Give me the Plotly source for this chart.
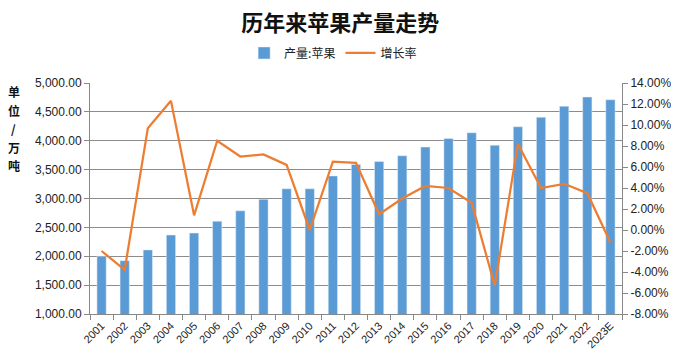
import plotly.graph_objects as go

years = ["2001", "2002", "2003", "2004", "2005", "2006", "2007", "2008", "2009", "2010",
         "2011", "2012", "2013", "2014", "2015", "2016", "2017", "2018", "2019", "2020",
         "2021", "2022", "2023E"]
production = [2002, 1924, 2110, 2367, 2401, 2606, 2786, 2985, 3168, 3168,
              3390, 3590, 3640, 3740, 3890, 4039, 4139, 3923, 4243, 4407,
              4597, 4757, 4710]
growth = [-2.0, -3.8, 9.7, 12.3, 1.4, 8.5, 7.0, 7.2, 6.2, 0.0,
          6.5, 6.4, 1.5, 3.0, 4.2, 4.0, 2.6, -5.3, 8.2, 4.0,
          4.4, 3.5, -1.2]

left_ticks = [1000, 1500, 2000, 2500, 3000, 3500, 4000, 4500, 5000]
right_ticks = [-8, -6, -4, -2, 0, 2, 4, 6, 8, 10, 12, 14]
right_labels = [f"{v:.2f}%" for v in right_ticks]
unit_chars = ["单", "位", "/", "万", "吨"]
unit_pos = [0.962, 0.882, 0.802, 0.722, 0.642]

font_family = "Liberation Sans, Arial, sans-serif"
cjk = "Noto Sans CJK SC, sans-serif"

fig = go.Figure()
fig.add_trace(go.Bar(x=years, y=production, name="产量:苹果", marker_color="#5B9BD5",
                     yaxis="y"))
fig.add_trace(go.Scatter(x=years, y=growth, name="增长率", mode="lines",
                         line=dict(color="#ED7D31", width=2.25), yaxis="y2"))

fig.update_layout(
    width=671, height=354,
    margin=dict(l=82, r=57, t=75, b=48, autoexpand=False),
    paper_bgcolor="white", plot_bgcolor="white",
    bargap=0.6,
    showlegend=True,
    title=dict(text="<b>历年来苹果产量走势</b>", x=0.495, xanchor="center", y=0.957, yanchor="middle",
               font=dict(family=cjk, size=22, color="#111111")),
    legend=dict(orientation="h", x=0.457, xanchor="center", y=1.13, yanchor="middle",
                font=dict(family=cjk, size=12, color="#222222"),
                tracegroupgap=0, traceorder="normal"),
    xaxis=dict(type="category", tickangle=-45, ticks="outside", tickson="boundaries",
               ticklen=5, tickcolor="#888888", showline=True, linecolor="#888888",
               showgrid=False, automargin=False,
               tickfont=dict(family=font_family, size=11, color="#222222")),
    yaxis=dict(range=[1000, 5000], tickvals=left_ticks, tickformat=",.2f",
               showgrid=True, gridcolor="#8C8C8C", gridwidth=1,
               showline=True, linecolor="#888888", ticks="outside", ticklen=5,
               tickcolor="#888888", zeroline=False, automargin=False,
               tickfont=dict(family=font_family, size=12, color="#222222")),
    yaxis2=dict(range=[-8, 14], tickvals=right_ticks, ticktext=right_labels,
                overlaying="y", side="right", showgrid=False,
                showline=True, linecolor="#888888", ticks="outside", ticklen=5,
                tickcolor="#888888", zeroline=False, automargin=False,
                tickfont=dict(family=font_family, size=12, color="#222222")),
)

for ch, yp in zip(unit_chars, unit_pos):
    fig.add_annotation(text=f"<b>{ch}</b>", xref="paper", yref="paper",
                       x=-0.143, y=yp, xanchor="center", yanchor="middle",
                       showarrow=False,
                       font=dict(family=cjk, size=12, color="#111111"))

fig.write_html("out.html")
